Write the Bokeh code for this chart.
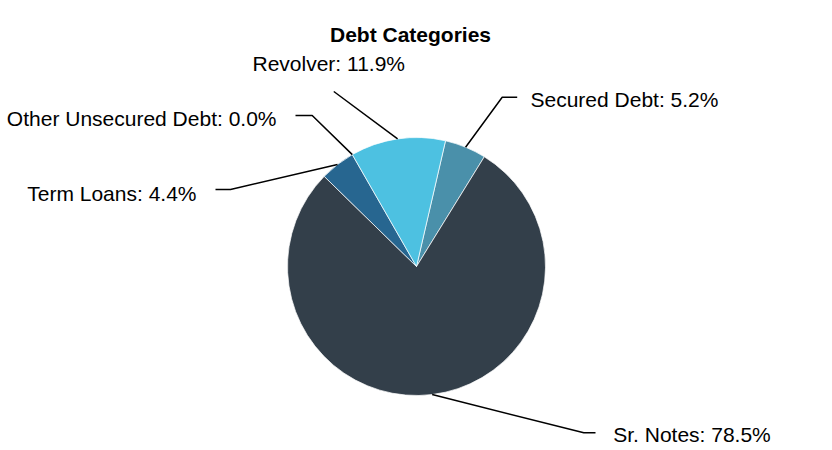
import math
from bokeh.plotting import figure
from bokeh.models import Range1d, ColumnDataSource
from bokeh.embed import file_html
from bokeh.resources import INLINE
from bokeh.core.properties import value

# ---- data ----
title_text = "Debt Categories"
categories = ["Secured Debt", "Sr. Notes", "Term Loans", "Other Unsecured Debt", "Revolver"]
shares = [5.2, 78.5, 4.4, 0.0, 11.9]
colors = ["#4a90aa", "#333f4a", "#276690", "#8bbc21", "#4dc1e1"]

# ---- layout (page pixels) ----
W, H = 832, 450
OFF = 0
CX, CY, R = 416, 266, 129
START = 13.0  # clockwise degrees from 12 o'clock
FONT = "Liberation Sans"
# per label: knee point, end of horizontal, text anchor (x, middle y), align
label_layout = [
    ((501.7, 96.7), (516.7, 96.7), (530.0, 98.5), "left"),
    ((583.3, 432.3), (595.0, 432.3), (612.7, 433.5), "left"),
    ((230.0, 189.0), (215.0, 189.0), (196.0, 193.0), "right"),
    ((311.7, 115.0), (295.0, 115.0), (276.0, 118.0), "right"),
    ((333.3, 91.0), (333.3, 91.0), (252.0, 62.5), "left"),
]
TITLE_POS = (410, 33.5)


def ty(py):
    return (H + 2 * OFF) - py


p = figure(width=W, height=H, output_backend="svg", toolbar_location=None,
           x_range=Range1d(OFF, OFF + W), y_range=Range1d(OFF, OFF + H),
           min_border=0, outline_line_color=None)
p.axis.visible = False
p.grid.visible = False
p.background_fill_color = "white"
p.border_fill_color = "white"

total = sum(shares)
starts, ends, mids, wcols, wnames = [], [], [], [], []
acc = START
for cat, s, c in zip(categories, shares, colors):
    a0 = acc
    a1 = acc + 360.0 * s / total
    mids.append((a0 + a1) / 2)
    if s > 0:
        starts.append(math.radians(90 - a0))
        ends.append(math.radians(90 - a1))
        wcols.append(c)
        wnames.append(cat)
    acc = a1

src = ColumnDataSource(dict(start=starts, end=ends, color=wcols, name=wnames))
p.wedge(x=CX, y=ty(CY), radius=R, start_angle="start", end_angle="end",
        direction="clock", fill_color="color", line_color="white",
        line_width=1, line_alpha=0.7, source=src)

xs, ys, tx, tyy, texts, aligns = [], [], [], [], [], []
for cat, s, m, (knee, hend, tpos, al) in zip(categories, shares, mids, label_layout):
    sx = CX + R * math.sin(math.radians(m))
    sy = CY - R * math.cos(math.radians(m))
    xs.append([sx, knee[0], hend[0]])
    ys.append([ty(sy), ty(knee[1]), ty(hend[1])])
    tx.append(tpos[0])
    tyy.append(ty(tpos[1]))
    texts.append(f"{cat}: {s:.1f}%")
    aligns.append(al)

p.multi_line(xs=xs, ys=ys, line_color="black", line_width=1.5)
p.text(x=tx, y=tyy, text=texts, text_align=aligns, text_baseline="middle",
       text_font=value(FONT), text_font_size="21px", text_color="black")

p.text(x=[TITLE_POS[0]], y=[ty(TITLE_POS[1])], text=[title_text], text_align="center",
       text_baseline="middle", text_font=value(FONT), text_font_size="21px",
       text_font_style="bold", text_color="black")

open("out.html", "w").write(file_html(p, INLINE))
